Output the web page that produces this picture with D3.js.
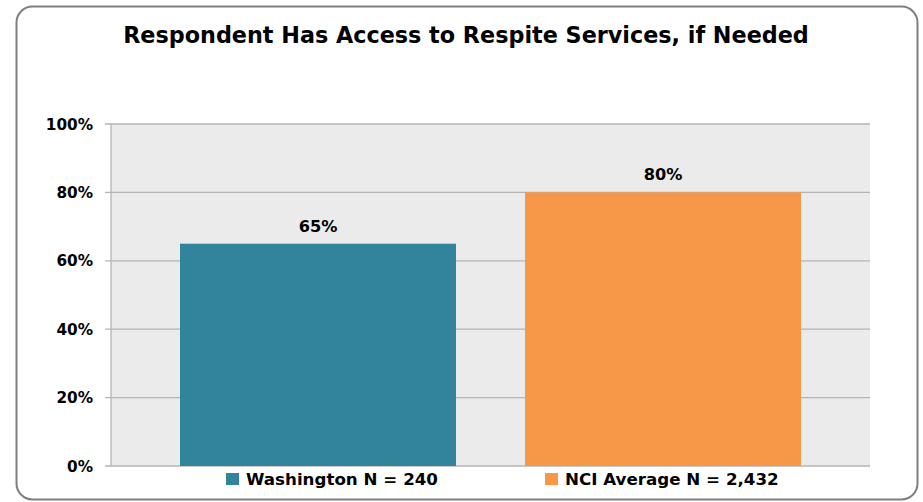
<!DOCTYPE html>
<html>
<head>
<meta charset="utf-8">
<script src="https://cdn.jsdelivr.net/npm/d3@7"></script>
<style>
  body { margin: 0; background: #fff; }
  text { font-family: "DejaVu Sans", sans-serif; font-weight: bold; }
</style>
</head>
<body>
<div id="viz"></div>
<script>
var categories = ["Washington", "NCI Average"];
var values = [65, 80];
var legendLabels = ["Washington N = 240", "NCI Average N = 2,432"];
var yTicks = [0, 20, 40, 60, 80, 100];
var colors = ["#32849c", "#f79748"];

var width = 923, height = 502;
var plotL = 111, plotR = 870, plotT = 124, plotB = 466;

var svg = d3.select("#viz").append("svg")
  .attr("width", width)
  .attr("height", height);

// outer frame
svg.append("rect")
  .attr("x", 16.5).attr("y", 6.5)
  .attr("width", 901).attr("height", 493)
  .attr("rx", 16)
  .attr("fill", "#fff")
  .attr("stroke", "#7f7f7f")
  .attr("stroke-width", 2);

svg.append("text")
  .attr("x", 466).attr("y", 43)
  .attr("text-anchor", "middle")
  .style("font-size", "22.3px")
  .text("Respondent Has Access to Respite Services, if Needed");

var x = d3.scaleBand()
  .domain(categories)
  .range([plotL, plotR])
  .paddingInner(0.2)
  .paddingOuter(0.2);

var y = d3.scaleLinear()
  .domain([0, 100])
  .range([plotB, plotT]);

// plot background
svg.append("rect")
  .attr("x", plotL).attr("y", plotT)
  .attr("width", plotR - plotL).attr("height", plotB - plotT)
  .attr("fill", "#ebebeb");

// grid
svg.selectAll(".grid")
  .data(yTicks)
  .join("line")
  .attr("x1", plotL - 6).attr("x2", plotR)
  .attr("y1", d => y(d)).attr("y2", d => y(d))
  .attr("stroke", "#b4b4b4")
  .attr("stroke-width", 1.3);

svg.append("line")
  .attr("x1", plotL).attr("x2", plotL)
  .attr("y1", plotT).attr("y2", plotB)
  .attr("stroke", "#b4b4b4")
  .attr("stroke-width", 1.3);

svg.selectAll(".ylab")
  .data(yTicks)
  .join("text")
  .attr("x", 93)
  .attr("y", d => y(d) + 5.5)
  .attr("text-anchor", "end")
  .style("font-size", "15.3px")
  .text(d => d + "%");

svg.selectAll(".bar")
  .data(values)
  .join("rect")
  .attr("x", (d, i) => x(categories[i]))
  .attr("y", d => y(d))
  .attr("width", x.bandwidth())
  .attr("height", d => y(0) - y(d))
  .attr("fill", (d, i) => colors[i]);

svg.selectAll(".vlab")
  .data(values)
  .join("text")
  .attr("x", (d, i) => x(categories[i]) + x.bandwidth() / 2)
  .attr("y", d => y(d) - 12)
  .attr("text-anchor", "middle")
  .style("font-size", "16.2px")
  .text(d => d + "%");

// legend
var legX = [226, 545];
var leg = svg.selectAll(".leg")
  .data(legendLabels)
  .join("g")
  .attr("transform", (d, i) => "translate(" + legX[i] + ",473)");
leg.append("rect")
  .attr("width", 13).attr("height", 12)
  .attr("fill", (d, i) => colors[i]);
leg.append("text")
  .attr("x", 20).attr("y", 12)
  .style("font-size", "16.7px")
  .text(d => d);
</script>
</body>
</html>
